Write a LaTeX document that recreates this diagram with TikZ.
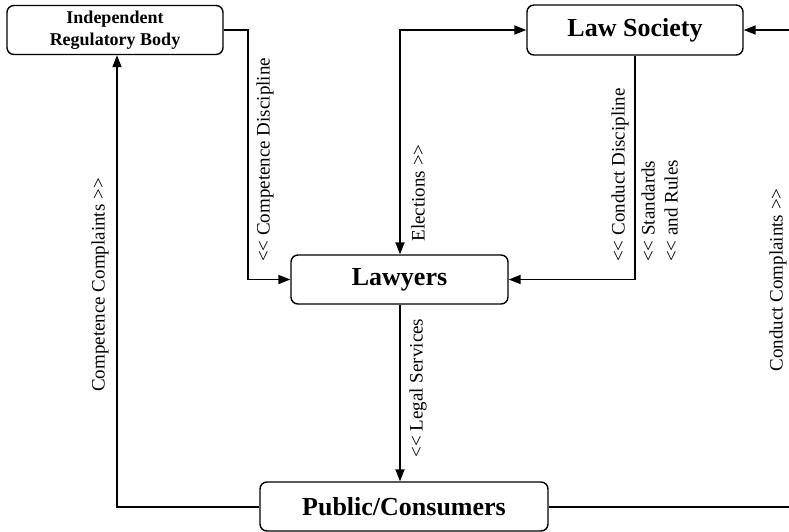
\documentclass[tikz,border=0pt]{standalone}
\usepackage{fontspec}
\setmainfont{Liberation Serif}
\usetikzlibrary{arrows.meta}
\begin{document}
\begin{tikzpicture}[x=1pt,y=-1pt,
  box/.style={draw, line width=1.4pt, rounded corners=7pt, inner sep=0pt,
    font=\bfseries\fontsize{26}{28}\selectfont, align=center},
  conn/.style={line width=1.8pt, -{Triangle[length=12pt,width=9pt]}},
  both/.style={line width=1.8pt, {Triangle[length=12pt,width=9pt]}-{Triangle[length=12pt,width=9pt]}},
  plain/.style={line width=1.8pt},
  lab/.style={rotate=90, font=\fontsize{19}{21}\selectfont, inner sep=0pt}]
\useasboundingbox (0,0) rectangle (789,532);

\node[box, minimum width=216pt, minimum height=49pt, font=\bfseries\fontsize{18}{22}\selectfont] (irb) at (115,30) {Independent\\Regulatory Body};
\node[box, minimum width=216pt, minimum height=50pt] (ls) at (635,30) {Law Society};
\node[box, minimum width=217pt, minimum height=49pt] (law) at (399.5,279.5) {Lawyers};
\node[box, minimum width=288pt, minimum height=49pt] (pub) at (404,506.5) {Public/Consumers};

\coordinate (re1) at (789,30);
\coordinate (re2) at (789,507);

% competence discipline
\draw[conn] (irb.east) -- (248,30) -- (248,279.5) -- (law.west);
% elections
\draw[both] (law.north -| 400,0) -- (400,30) -- (ls.west);
% conduct discipline
\draw[conn] (ls.south) -- (635,279.5) -- (law.east);
% legal services
\draw[conn] (law.south -| 400,0) -- (pub.north -| 400,0);
% competence complaints
\draw[conn] (pub.west |- 0,507) -- (117,507) -- (irb.south -| 117,0);
% conduct complaints
\draw[plain] (pub.east |- 0,507) -- (re2);
\draw[conn] (re1) -- (ls.east);

\node[lab] (l1) at (265,160) {<{}< Competence Discipline};
\node[lab] (l2) at (418,193) {Elections >{}>};
\node[lab, anchor=west] (l3) at (620,262) {<{}< Conduct Discipline};
\node[lab, anchor=west] (l4) at (648,262) {<{}< Standards};
\node[lab, anchor=west] (l5) at (671,262) {<{}< and Rules};
\node[lab] (l6) at (418,388) {<{}< Legal Services};
\node[lab] (l7) at (100,285) {Competence Complaints >{}>};
\node[lab] (l8) at (778,280) {Conduct Complaints >{}>};
\end{tikzpicture}
\end{document}
